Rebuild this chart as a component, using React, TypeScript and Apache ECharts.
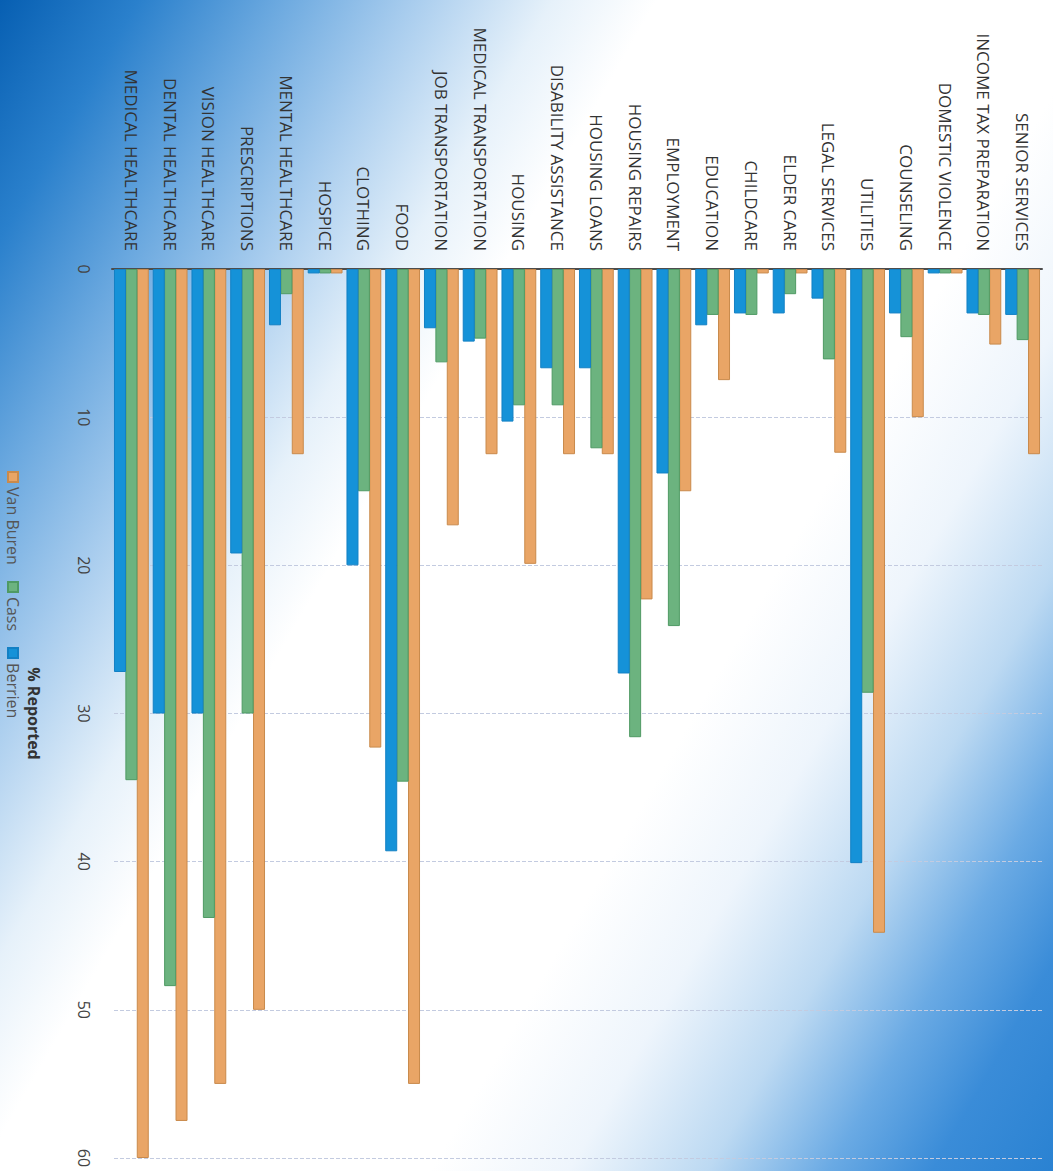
import React, { useEffect, useRef } from "react";
import * as echarts from "echarts";

// Categories in reading order (top to bottom of the un-rotated chart)
const categories = [
  "SENIOR SERVICES",
  "INCOME TAX PREPARATION",
  "DOMESTIC VIOLENCE",
  "COUNSELING",
  "UTILITIES",
  "LEGAL SERVICES",
  "ELDER CARE",
  "CHILDCARE",
  "EDUCATION",
  "EMPLOYMENT",
  "HOUSING REPAIRS",
  "HOUSING LOANS",
  "DISABILITY ASSISTANCE",
  "HOUSING",
  "MEDICAL TRANSPORTATION",
  "JOB TRANSPORTATION",
  "FOOD",
  "CLOTHING",
  "HOSPICE",
  "MENTAL HEALTHCARE",
  "PRESCRIPTIONS",
  "VISION HEALTHCARE",
  "DENTAL HEALTHCARE",
  "MEDICAL HEALTHCARE",
];

const vanBuren = [12.5, 5.1, 0.3, 10.0, 44.8, 12.4, 0.3, 0.3, 7.5, 15.0, 22.3, 12.5, 12.5, 19.9, 12.5, 17.3, 55.0, 32.3, 0.3, 12.5, 50.0, 55.0, 57.5, 60.0];
const cass = [4.8, 3.1, 0.3, 4.6, 28.6, 6.1, 1.7, 3.1, 3.1, 24.1, 31.6, 12.1, 9.2, 9.2, 4.7, 6.3, 34.6, 15.0, 0.3, 1.7, 30.0, 43.8, 48.4, 34.5];
const berrien = [3.1, 3.0, 0.3, 3.0, 40.1, 2.0, 3.0, 3.0, 3.8, 13.8, 27.3, 6.7, 6.7, 10.3, 4.9, 4.0, 39.3, 20.0, 0.3, 3.8, 19.2, 30.0, 30.0, 27.2];

const seriesNames = ["Van Buren", "Cass", "Berrien"];
const seriesColors = ["#e9a566", "#6cb37f", "#1592d8"];
const seriesBorders = ["#c98a4c", "#4f9a64", "#1380c4"];

const valueMin = 0;
const valueMax = 60;
const valueInterval = 10;
const axisTitle = "% Reported";

export default function App() {
  const ref = useRef<HTMLDivElement>(null);

  useEffect(() => {
    if (!ref.current) return;
    const chart = echarts.init(ref.current, null, { renderer: "svg" });
    const dataSets = [vanBuren, cass, berrien];
    chart.setOption({
      animation: false,
      backgroundColor: "transparent",
      textStyle: { fontFamily: "Open Sans" },
      legend: {
        data: seriesNames,
        left: 466,
        top: 1027,
        icon: "rect",
        itemWidth: 10,
        itemHeight: 10,
        itemGap: 16,
        textStyle: { fontSize: 16, color: "#555", fontFamily: "Open Sans" },
      },
      grid: { left: 269, right: 13, top: 11, bottom: 112, containLabel: false },
      xAxis: {
        type: "value",
        min: valueMin,
        max: valueMax,
        interval: valueInterval,
        axisLine: { show: false },
        axisTick: { show: false },
        axisLabel: { fontSize: 16, color: "#444", margin: 20, fontFamily: "Open Sans" },
        splitLine: { show: true, lineStyle: { color: "#c3cbe0", type: "dashed", width: 1 } },
        name: axisTitle,
        nameLocation: "middle",
        nameGap: 70,
        nameTextStyle: { fontSize: 16, fontWeight: "bold", color: "#333", fontFamily: "Open Sans" },
      },
      yAxis: {
        type: "category",
        inverse: true,
        data: categories,
        axisLine: { show: true, lineStyle: { color: "#4d4d4d", width: 2 } },
        axisTick: { show: false },
        axisLabel: { fontSize: 17, color: "#333", margin: 18, fontFamily: "Open Sans" },
        splitLine: { show: false },
      },
      series: seriesNames.map((name, i) => ({
        name,
        type: "bar",
        data: dataSets[i],
        barWidth: 12,
        barGap: "-5%",
        itemStyle: { color: seriesColors[i], borderColor: seriesBorders[i], borderWidth: 1 },
      })),
    });
    return () => chart.dispose();
  }, []);

  return (
    <div
      style={{
        position: "absolute",
        left: 0,
        top: 0,
        width: 1053,
        height: 1171,
        overflow: "hidden",
        background:
          "linear-gradient(120deg, #075fb2 0%, #2a80cc 8%, #6aa8df 16%, #a9cdee 24%, #e6f1fa 32%, #ffffff 38%, #ffffff 64%, #eef5fc 72%, #bcd9f2 80%, #6aaae4 87%, #3a8cd8 93%, #2a82d2 100%)",
      }}
    >
      <div
        ref={ref}
        style={{
          position: "absolute",
          left: 0,
          top: 0,
          width: 1171,
          height: 1053,
          transform: "translateX(1053px) rotate(90deg)",
          transformOrigin: "0 0",
        }}
      />
    </div>
  );
}
